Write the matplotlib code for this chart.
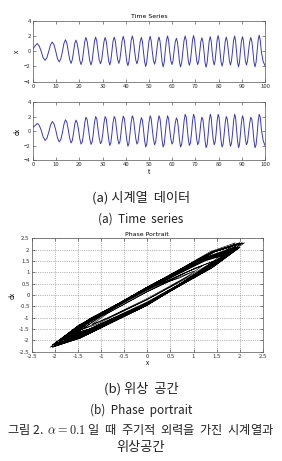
import matplotlib
matplotlib.use("Agg")
import matplotlib.pyplot as plt

plt.rcParams['font.family'] = ['Noto Sans CJK KR', 'DejaVu Sans']
plt.rcParams['mathtext.fontset'] = 'cm'

# values (8 samples per cycle: extremes, crossings and between)
t = [0.0, 0.9, 1.8, 2.65, 3.5, 4.35, 5.2, 6.0, 6.8, 7.55, 8.3, 9.05, 9.8, 10.55,
     11.3, 12.0, 12.7, 13.35, 14.0, 14.6, 15.2, 15.8, 16.4, 16.95, 17.5, 18.0, 18.5,
     19.05, 19.6, 20.15, 20.7, 21.25, 21.8, 22.3, 22.8, 23.35, 23.9, 24.45, 25.0, 25.5,
     26.0, 26.5, 27.0, 27.5, 28.0, 28.55, 29.1, 29.6, 30.1, 30.6, 31.1, 31.6, 32.1,
     32.6, 33.1, 33.55, 34.0, 34.5, 35.0, 35.5, 36.0, 36.5, 37.0, 37.45, 37.9, 38.4,
     38.9, 39.4, 39.9, 40.4, 40.9, 41.35, 41.8, 42.3, 42.8, 43.3, 43.8, 44.3, 44.8,
     45.25, 45.7, 46.2, 46.7, 47.15, 47.6, 48.1, 48.6, 49.05, 49.5, 50.0, 50.5, 50.95,
     51.4, 51.9, 52.4, 52.85, 53.3, 53.8, 54.3, 54.75, 55.2, 55.65, 56.1, 56.55, 57.0,
     57.5, 58.0, 58.45, 58.9, 59.4, 59.9, 60.35, 60.8, 61.3, 61.8, 62.25, 62.7, 63.15,
     63.6, 64.1, 64.6, 65.1, 65.6, 66.05, 66.5, 66.95, 67.4, 67.85, 68.3, 68.75, 69.2,
     69.65, 70.1, 70.55, 71.0, 71.45, 71.9, 72.35, 72.8, 73.25, 73.7, 74.15, 74.6,
     75.05, 75.5, 75.95, 76.4, 76.8, 77.2, 77.65, 78.1, 78.5, 78.9, 79.35, 79.8, 80.2,
     80.6, 81.05, 81.5, 81.95, 82.4, 82.85, 83.3, 83.75, 84.2, 84.65, 85.1, 85.55,
     86.0, 86.45, 86.9, 87.3, 87.7, 88.15, 88.6, 89.0, 89.4, 89.85, 90.3, 90.7, 91.1,
     91.55, 92.0, 92.45, 92.9, 93.4, 93.9, 94.35, 94.8, 95.25, 95.7, 96.15, 96.6,
     97.05, 97.5, 97.95, 98.4, 99.2, 100.0]
x = [0.3, 0.7, 1.0, 0.7, 0.0, -0.85, -1.2, -0.85, 0.0, 0.85, 1.2, 0.85, 0.0, -1.0,
     -1.4, -1.0, 0.0, 1.05, 1.5, 1.05, 0.0, -1.1, -1.6, -1.1, 0.0, 1.0, 1.45,
     1.0, 0.0, -1.2, -1.75, -1.25, 0.0, 1.25, 1.8, 1.25, 0.0, -1.25, -1.8, -1.25,
     0.0, 1.3, 1.85, 1.3, 0.0, -1.15, -1.65, -1.15, 0.0, 1.25, 1.8, 1.25, 0.0,
     -1.25, -1.8, -1.25, 0.0, 1.3, 1.85, 1.3, 0.0, -1.1, -1.6, -1.1, 0.0, 1.35,
     1.95, 1.35, 0.0, -1.35, -1.9, -1.35, 0.0, 1.4, 2.0, 1.4, 0.0, -1.15, -1.65,
     -1.15, 0.0, 1.25, 1.8, 1.25, 0.0, -1.4, -2.0, -1.4, 0.0, 1.35, 1.95, 1.35,
     0.0, -1.2, -1.7, -1.2, 0.0, 1.3, 1.85, 1.3, 0.0, -1.45, -2.05, -1.45, 0.0,
     1.4, 2.0, 1.4, 0.0, -1.25, -1.75, -1.25, 0.0, 1.2, 1.7, 1.2, 0.0, -1.45,
     -2.05, -1.45, 0.0, 1.4, 2.0, 1.4, 0.0, -1.3, -1.85, -1.3, 0.0, 1.45, 2.05,
     1.45, 0.0, -1.25, -1.75, -1.25, 0.0, 1.25, 1.75, 1.25, 0.0, -1.5, -2.1,
     -1.5, 0.0, 1.35, 1.9, 1.35, 0.0, -1.25, -1.8, -1.25, 0.0, 1.45, 2.05, 1.45,
     0.0, -1.4, -1.95, -1.4, 0.0, 1.3, 1.85, 1.3, 0.0, -1.25, -1.8, -1.25,
     0.0, 1.4, 2.0, 1.4, 0.0, -1.45, -2.05, -1.45, 0.0, 1.35, 1.9, 1.35, 0.0,
     -1.25, -1.8, -1.25, 0.0, 1.25, 1.8, 1.25, 0.0, -1.45, -2.05, -1.45, 0.0,
     1.45, 2.1, 1.45, 0.0, -1.35, -1.9]
dx = [0.5, 0.75, 1.05, 0.8, 0.15, -0.8, -1.3, -1.0, -0.15, 0.8, 1.3, 1.0, 0.15, -0.95,
      -1.5, -1.15, -0.2, 0.95, 1.55, 1.2, 0.2, -1.0, -1.65, -1.3, -0.2, 0.95, 1.5,
      1.15, 0.25, -1.05, -1.8, -1.5, -0.3, 1.1, 1.9, 1.55, 0.3, -1.05, -1.85, -1.5,
      -0.35, 1.15, 2.0, 1.65, 0.3, -1.0, -1.75, -1.45, -0.35, 1.15, 2.0, 1.65, 0.3,
      -1.15, -2.0, -1.65, -0.4, 1.15, 2.0, 1.65, 0.3, -1.05, -1.8, -1.5, -0.35, 1.2,
      2.05, 1.7, 0.3, -1.2, -2.1, -1.7, -0.4, 1.2, 2.1, 1.7, 0.3, -1.05, -1.8,
      -1.5, -0.35, 1.05, 1.85, 1.5, 0.25, -1.3, -2.2, -1.8, -0.4, 1.2, 2.1, 1.7,
      0.3, -1.1, -1.9, -1.55, -0.35, 1.2, 2.1, 1.7, 0.3, -1.3, -2.2, -1.8, -0.4,
      1.2, 2.1, 1.7, 0.3, -1.05, -1.8, -1.5, -0.35, 1.05, 1.8, 1.5, 0.25, -1.3,
      -2.2, -1.8, -0.4, 1.35, 2.3, 1.9, 0.35, -1.15, -2.0, -1.65, -0.4, 1.35, 2.3,
      1.9, 0.35, -1.1, -1.9, -1.55, -0.35, 1.1, 1.9, 1.55, 0.25, -1.35, -2.3,
      -1.9, -0.45, 1.35, 2.3, 1.9, 0.3, -1.1, -1.9, -1.55, -0.4, 1.35, 2.3, 1.9,
      0.35, -1.3, -2.2, -1.8, -0.4, 1.15, 2.0, 1.65, 0.3, -1.2, -2.1, -1.7,
      -0.4, 1.35, 2.3, 1.9, 0.35, -1.35, -2.3, -1.9, -0.45, 1.2, 2.1, 1.7, 0.3,
      -1.1, -1.9, -1.55, -0.35, 1.1, 1.9, 1.55, 0.25, -1.35, -2.3, -1.9, -0.45,
      1.35, 2.3, 1.9, 0.35, -1.3, -2.0]

ts_ticks_x = list(range(0, 101, 10))
ts_ticks_y = [-4, -2, 0, 2, 4]
pp_ticks = [-2.5, -2, -1.5, -1, -0.5, 0, 0.5, 1, 1.5, 2, 2.5]

LINE_BLUE = '#3a3ab0'
TICK_FS = 4.3

W, H = 282, 461
fig = plt.figure(figsize=(W / 100, H / 100), dpi=100)

def matlab_axes(ax):
    ax.tick_params(direction='in', length=2, width=0.4, labelsize=TICK_FS, pad=1.5,
                   top=True, right=True, colors='#333333')
    for s in ax.spines.values():
        s.set_linewidth(0.5)
        s.set_color('#555555')

def fmt(v):
    return ('%g' % v)

# top: x(t)
ax1 = fig.add_axes([33 / W, 1 - 81.7 / H, 232 / W, 61 / H])
ax1.plot(t, x, color=LINE_BLUE, lw=0.7)
ax1.set_xlim(0, 100)
ax1.set_ylim(-4, 4)
ax1.set_xticks(ts_ticks_x)
ax1.set_yticks(ts_ticks_y)
ax1.set_title('Time Series', fontsize=4.5, pad=2, family='DejaVu Sans')
ax1.set_ylabel('x', fontsize=4.5, labelpad=2)
matlab_axes(ax1)

# bottom: dx(t)
ax2 = fig.add_axes([33 / W, 1 - 160 / H, 232 / W, 58 / H])
ax2.plot(t, dx, color=LINE_BLUE, lw=0.7)
ax2.set_xlim(0, 100)
ax2.set_ylim(-4, 4)
ax2.set_xticks(ts_ticks_x)
ax2.set_yticks(ts_ticks_y)
ax2.set_xlabel('t', fontsize=4.5, labelpad=0.5)
ax2.set_ylabel('dx', fontsize=4.5, labelpad=2)
matlab_axes(ax2)

# phase portrait
ax3 = fig.add_axes([31.7 / W, 1 - 351.7 / H, 231.3 / W, 113.4 / H])
ax3.plot(x, dx, color='black', lw=0.45)
ax3.set_xlim(-2.5, 2.5)
ax3.set_ylim(-2.5, 2.5)
ax3.set_xticks(pp_ticks)
ax3.set_yticks(pp_ticks)
ax3.set_xticklabels([fmt(v) for v in pp_ticks])
ax3.set_yticklabels([fmt(v) for v in pp_ticks])
ax3.grid(True, linestyle=':', linewidth=0.5, color='#777777')
ax3.set_title('Phase Portrait', fontsize=4.5, pad=2, family='DejaVu Sans')
ax3.set_xlabel('x', fontsize=4.5, labelpad=0.5)
ax3.set_ylabel('dx', fontsize=4.5, labelpad=2)
matlab_axes(ax3)

cap = dict(ha='center', va='center', color='#222222')
fig.text(0.5, 1 - 198 / H, '(a) 시계열  데이터', fontsize=9.5, **cap)
fig.text(0.5, 1 - 219 / H, '(a)  Time  series', fontsize=8.5, **cap)
fig.text(0.5, 1 - 389 / H, '(b) 위상  공간', fontsize=9.5, **cap)
fig.text(0.5, 1 - 410 / H, '(b)  Phase  portrait', fontsize=8.5, **cap)
fig.text(0.5, 1 - 429 / H, '그림 2.  $\\alpha=0.1$ 일  때  주기적  외력을  가진  시계열과',
         fontsize=8.8, **cap)
fig.text(0.5, 1 - 447 / H, '위상공간', fontsize=9.5, **cap)

fig.savefig('out.png', dpi=100)
